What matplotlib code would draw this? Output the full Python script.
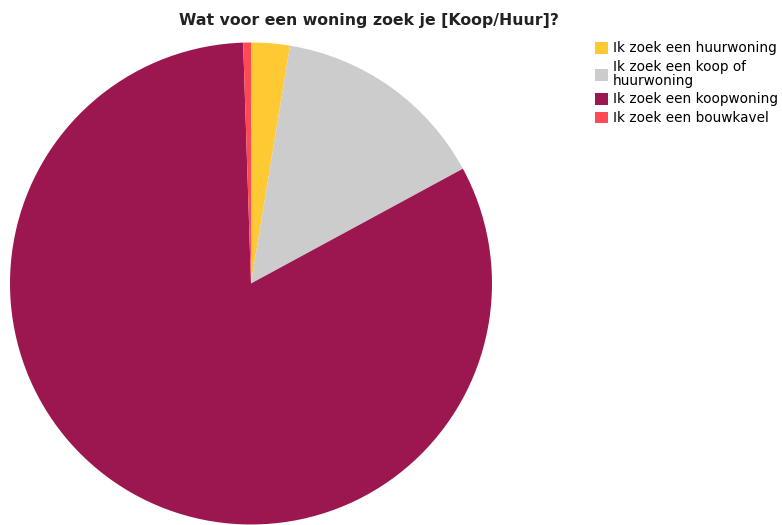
import matplotlib.pyplot as plt

labels = ['Ik zoek een huurwoning', 'Ik zoek een koop of\nhuurwoning',
          'Ik zoek een koopwoning', 'Ik zoek een bouwkavel']
counts = [5, 28, 159, 1]
colors = ['#FFC933', '#CCCCCC', '#9C1650', '#FF4A55']

fig = plt.figure(figsize=(7.82, 5.25), dpi=100)
ax = fig.add_axes([10 / 782, 0.5 / 525, 482 / 782, 482 / 525])

wedges, _ = ax.pie(counts, colors=colors, startangle=90, counterclock=False,
                   radius=1.0, wedgeprops={'linewidth': 0})
ax.set_xlim(-1, 1)
ax.set_ylim(-1, 1)
ax.set_aspect('equal')
ax.axis('off')

fig.text(369 / 782, 1 - 20 / 525, 'Wat voor een woning zoek je [Koop/Huur]?',
         ha='center', va='center', fontsize=11.3, fontweight='bold', color='#222222')

leg = fig.legend(wedges, labels, loc='upper left', bbox_to_anchor=(590 / 782, 1 - 36 / 525),
                 frameon=False, fontsize=9.8, handlelength=0.95, handleheight=0.95,
                 handletextpad=0.35, labelspacing=0.35, borderaxespad=0)
for t in leg.get_texts():
    t.set_linespacing(0.95)

fig.savefig('out.png', dpi=100)
